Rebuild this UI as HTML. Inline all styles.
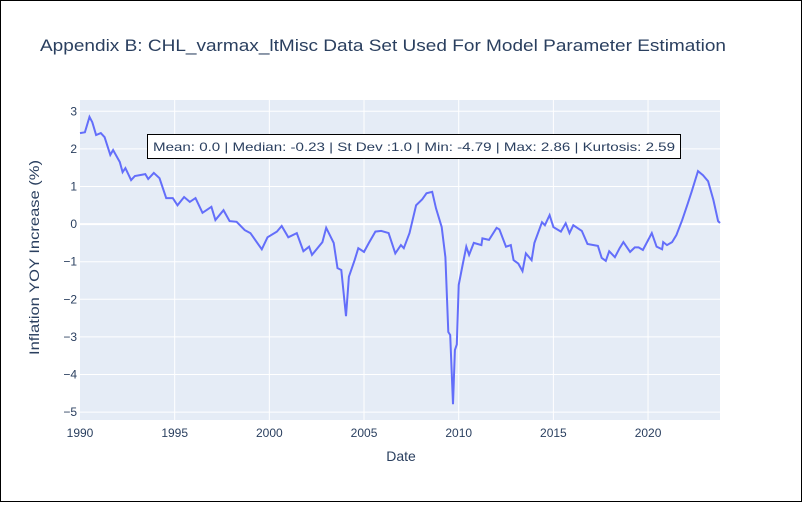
<!DOCTYPE html>
<html><head><meta charset="utf-8"><style>
body{margin:0;background:#fff;font-family:"Liberation Sans",sans-serif}
svg text{font-family:"Liberation Sans",sans-serif}
</style></head><body>
<svg id="chart" width="802" height="502" xmlns="http://www.w3.org/2000/svg">
<rect x="0.5" y="0.5" width="801" height="501" fill="#fff" stroke="#000"/>
<text x="40" y="51" font-size="17" fill="#2a3f5f" textLength="686" lengthAdjust="spacingAndGlyphs">Appendix B: CHL_varmax_ltMisc Data Set Used For Model Parameter Estimation</text>
<rect x="80" y="100" width="640" height="320" fill="#e5ecf6"/>
<g id="grid"></g>
<g id="xticks"></g>
<g id="yticks"></g>
<path id="line" fill="none" stroke="#636efa" stroke-width="2"/>
<rect x="147.5" y="134.5" width="533" height="24" fill="#fff" stroke="#000"/>
<text x="153" y="151" font-size="12" fill="#2a3f5f" textLength="522" lengthAdjust="spacingAndGlyphs">Mean: 0.0 | Median: -0.23 | St Dev :1.0 | Min: -4.79 | Max: 2.86 | Kurtosis: 2.59</text>
<text x="401" y="461" font-size="14" fill="#2a3f5f" text-anchor="middle">Date</text>
<text transform="translate(39,355) rotate(-90)" font-size="14" fill="#2a3f5f" textLength="195" lengthAdjust="spacingAndGlyphs">Inflation YOY Increase (%)</text>
</svg>
<script>
const years=[1990,1990.26,1990.5,1990.65,1990.85,1991.1,1991.3,1991.6,1991.75,1992.1,1992.25,1992.4,1992.7,1992.9,1993.45,1993.6,1993.9,1994.2,1994.55,1994.9,1995.15,1995.5,1995.8,1996.1,1996.47,1996.94,1997.15,1997.58,1997.9,1998.27,1998.7,1999.0,1999.6,1999.9,2000.4,2000.65,2001.0,2001.45,2001.8,2002.1,2002.25,2002.8,2003.0,2003.4,2003.6,2003.8,2004.05,2004.2,2004.5,2004.7,2005.0,2005.26,2005.6,2005.9,2006.3,2006.65,2006.95,2007.1,2007.4,2007.75,2008.07,2008.3,2008.6,2008.8,2009.1,2009.3,2009.45,2009.55,2009.7,2009.8,2009.9,2010.0,2010.2,2010.4,2010.55,2010.8,2011.2,2011.25,2011.6,2012.0,2012.15,2012.5,2012.75,2012.9,2013.15,2013.37,2013.55,2013.85,2014.0,2014.4,2014.55,2014.8,2015.0,2015.4,2015.65,2015.85,2016.05,2016.5,2016.8,2017.35,2017.55,2017.77,2017.95,2018.25,2018.5,2018.7,2019.05,2019.3,2019.5,2019.73,2020.2,2020.45,2020.74,2020.8,2021.0,2021.27,2021.5,2021.8,2022.1,2022.3,2022.64,2022.9,2023.17,2023.45,2023.7,2023.8];
const values=[2.42,2.44,2.85,2.71,2.37,2.42,2.31,1.84,1.97,1.65,1.38,1.49,1.17,1.28,1.33,1.2,1.36,1.22,0.69,0.69,0.5,0.72,0.59,0.69,0.3,0.46,0.11,0.37,0.08,0.06,-0.16,-0.24,-0.67,-0.35,-0.2,-0.05,-0.35,-0.24,-0.72,-0.6,-0.82,-0.48,-0.1,-0.5,-1.17,-1.22,-2.45,-1.4,-0.96,-0.64,-0.74,-0.5,-0.2,-0.18,-0.24,-0.78,-0.56,-0.64,-0.24,0.5,0.66,0.82,0.86,0.42,-0.08,-0.88,-2.87,-2.95,-4.79,-3.35,-3.2,-1.62,-1.1,-0.6,-0.82,-0.5,-0.56,-0.38,-0.42,-0.1,-0.14,-0.6,-0.56,-0.96,-1.05,-1.25,-0.78,-0.96,-0.5,0.05,-0.03,0.24,-0.08,-0.2,0.02,-0.24,-0.03,-0.18,-0.53,-0.58,-0.9,-0.98,-0.72,-0.88,-0.64,-0.48,-0.74,-0.62,-0.62,-0.69,-0.24,-0.6,-0.67,-0.48,-0.56,-0.48,-0.29,0.1,0.55,0.86,1.41,1.3,1.14,0.64,0.08,0.03];
const xTicks=[1990,1995,2000,2005,2010,2015,2020];
const yTicks=[3,2,1,0,-1,-2,-3,-4,-5];
const X0=80,X1=720,Y0=100,Y1=420,xMin=1990,xMax=2023.8,yMin=-5.21,yMax=3.3;
const sx=v=>X0+(v-xMin)/(xMax-xMin)*(X1-X0);
const sy=v=>Y1-(v-yMin)/(yMax-yMin)*(Y1-Y0);
const NS='http://www.w3.org/2000/svg';
const grid=document.getElementById('grid'),xt=document.getElementById('xticks'),yt=document.getElementById('yticks');
xTicks.forEach(t=>{
 const l=document.createElementNS(NS,'line');
 l.setAttribute('x1',sx(t));l.setAttribute('x2',sx(t));l.setAttribute('y1',Y0);l.setAttribute('y2',Y1);
 l.setAttribute('stroke','#fff');l.setAttribute('stroke-width',t===1990?0:1);
 
 
 grid.appendChild(l);
 const tx=document.createElementNS(NS,'text');
 tx.setAttribute('x',sx(t));tx.setAttribute('y',437);tx.setAttribute('font-size','12');tx.setAttribute('fill','#2a3f5f');tx.setAttribute('text-anchor','middle');
 tx.textContent=t;
 
 
 xt.appendChild(tx);
});
yTicks.forEach(t=>{
 const l=document.createElementNS(NS,'line');
 l.setAttribute('x1',X0);l.setAttribute('x2',X1);l.setAttribute('y1',sy(t));l.setAttribute('y2',sy(t));
 l.setAttribute('stroke','#fff');l.setAttribute('stroke-width',t===0?2:1);
 
 
 grid.appendChild(l);
 const tx=document.createElementNS(NS,'text');
 tx.setAttribute('x',X0-3);tx.setAttribute('y',sy(t)+4);tx.setAttribute('font-size','12');tx.setAttribute('fill','#2a3f5f');tx.setAttribute('text-anchor','end');
 tx.textContent=t<0?'\u2212'+Math.abs(t):t;
 
 
 yt.appendChild(tx);
});
document.getElementById('line').setAttribute('d',years.map((y,i)=>(i?'L':'M')+sx(y).toFixed(1)+','+sy(values[i]).toFixed(1)).join(''));
</script>
</body></html>
